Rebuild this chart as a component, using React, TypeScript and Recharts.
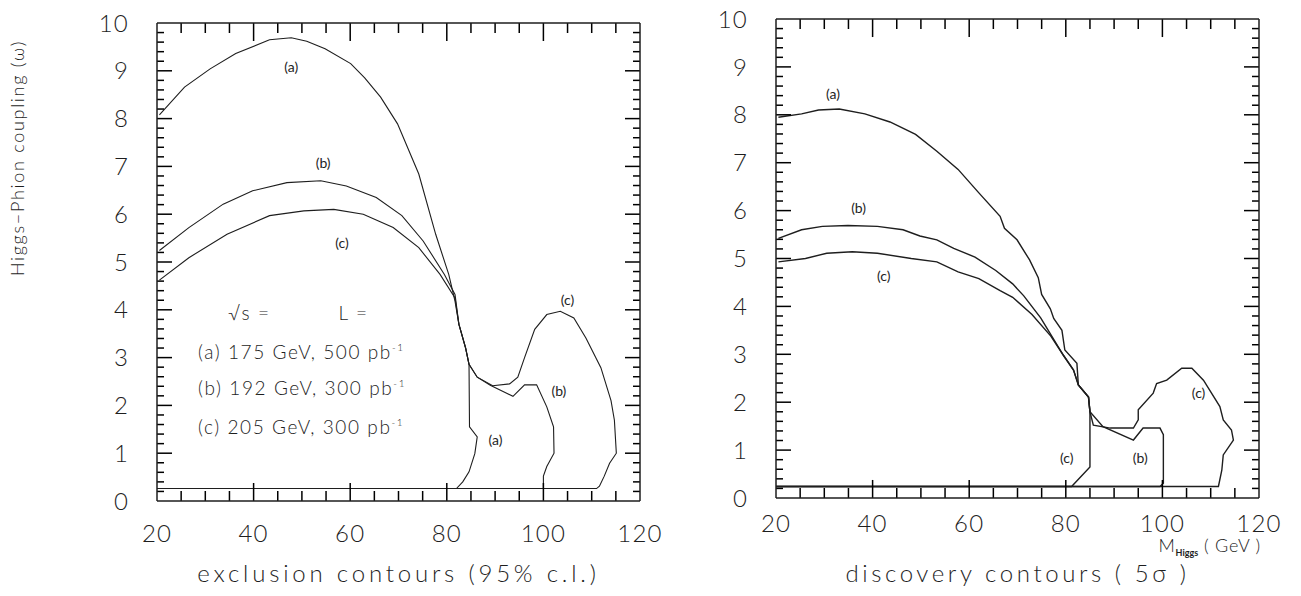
import React from "react";
import { LineChart, Line, XAxis, YAxis, ReferenceDot } from "recharts";

// tick labels
const X_LABELS = [20, 40, 60, 80, 100, 120];
const Y_LABELS = [0, 1, 2, 3, 4, 5, 6, 7, 8, 9, 10];

// left panel: exclusion contours (95% c.l.)
const EXCL_A = [
  { x: 20.5, y: 8.08 }, { x: 25.7, y: 8.66 }, { x: 31, y: 9.04 }, { x: 36.3, y: 9.36 },
  { x: 43.3, y: 9.65 }, { x: 47.8, y: 9.69 }, { x: 51, y: 9.62 }, { x: 54.8, y: 9.46 },
  { x: 60.1, y: 9.15 }, { x: 63, y: 8.85 }, { x: 66.3, y: 8.45 }, { x: 69.8, y: 7.89 },
  { x: 74.2, y: 6.84 }, { x: 77.7, y: 5.58 }, { x: 80.4, y: 4.74 }, { x: 81.7, y: 4.18 },
  { x: 82.5, y: 3.7 }, { x: 83.9, y: 3.2 }, { x: 84.6, y: 2.86 }, { x: 84.7, y: 1.55 },
  { x: 86.3, y: 1.34 }, { x: 85.8, y: 0.99 }, { x: 84.6, y: 0.61 }, { x: 83.3, y: 0.4 },
  { x: 82, y: 0.26 }, { x: 20, y: 0.26 },
];
const EXCL_B = [
  { x: 20.5, y: 5.24 }, { x: 26.6, y: 5.72 }, { x: 33.7, y: 6.21 }, { x: 39.8, y: 6.49 },
  { x: 46.9, y: 6.66 }, { x: 53.9, y: 6.7 }, { x: 59.2, y: 6.59 }, { x: 65.4, y: 6.35 },
  { x: 70.7, y: 5.97 }, { x: 75.1, y: 5.44 }, { x: 79.5, y: 4.74 }, { x: 81.7, y: 4.32 },
  { x: 82.5, y: 3.7 }, { x: 83.9, y: 3.2 }, { x: 84.6, y: 2.86 }, { x: 86.3, y: 2.59 },
  { x: 89, y: 2.42 }, { x: 93.7, y: 2.19 }, { x: 96.1, y: 2.43 }, { x: 98.6, y: 2.43 },
  { x: 100.7, y: 1.97 }, { x: 102.1, y: 1.55 }, { x: 102.2, y: 1.0 }, { x: 100.7, y: 0.72 },
  { x: 100, y: 0.52 }, { x: 100, y: 0.26 }, { x: 20, y: 0.26 },
];
const EXCL_C = [
  { x: 20.5, y: 4.62 }, { x: 26.6, y: 5.09 }, { x: 34.5, y: 5.58 }, { x: 43.3, y: 5.97 },
  { x: 50.4, y: 6.07 }, { x: 56.6, y: 6.1 }, { x: 62.7, y: 6.0 }, { x: 68.9, y: 5.72 },
  { x: 74.2, y: 5.3 }, { x: 78.6, y: 4.74 }, { x: 81.7, y: 4.25 }, { x: 82.5, y: 3.7 },
  { x: 83.9, y: 3.2 }, { x: 84.6, y: 2.86 }, { x: 86.3, y: 2.59 }, { x: 89.5, y: 2.41 },
  { x: 93, y: 2.45 }, { x: 94.7, y: 2.59 }, { x: 96.1, y: 3.0 }, { x: 98.2, y: 3.59 },
  { x: 100.7, y: 3.9 }, { x: 103.5, y: 3.97 }, { x: 106.3, y: 3.83 }, { x: 108.8, y: 3.41 },
  { x: 111.9, y: 2.79 }, { x: 114, y: 2.1 }, { x: 114.7, y: 1.69 }, { x: 115.1, y: 1.0 },
  { x: 113.7, y: 0.79 }, { x: 112.6, y: 0.52 }, { x: 111.6, y: 0.31 }, { x: 111, y: 0.26 },
  { x: 20, y: 0.26 },
];

// right panel: discovery contours (5 sigma)
const DISC_A = [
  { x: 20.5, y: 7.95 }, { x: 25.3, y: 8.02 }, { x: 28.8, y: 8.1 }, { x: 33.1, y: 8.12 },
  { x: 38.4, y: 8.02 }, { x: 43.6, y: 7.85 }, { x: 48.9, y: 7.59 }, { x: 53.3, y: 7.24 },
  { x: 57.7, y: 6.86 }, { x: 62, y: 6.37 }, { x: 66.4, y: 5.88 }, { x: 67.3, y: 5.63 },
  { x: 69.9, y: 5.39 }, { x: 72.5, y: 4.97 }, { x: 74.3, y: 4.6 }, { x: 75, y: 4.25 },
  { x: 76.8, y: 3.95 }, { x: 77.5, y: 3.75 }, { x: 79.2, y: 3.5 }, { x: 79.8, y: 3.09 },
  { x: 82.3, y: 2.81 }, { x: 82.6, y: 2.36 }, { x: 84.7, y: 2.11 }, { x: 85, y: 1.8 },
  { x: 85, y: 0.65 }, { x: 81.2, y: 0.24 }, { x: 20, y: 0.24 },
];
const DISC_B = [
  { x: 20.5, y: 5.42 }, { x: 25.3, y: 5.6 }, { x: 29.6, y: 5.67 }, { x: 34.9, y: 5.69 },
  { x: 41, y: 5.67 }, { x: 46.3, y: 5.6 }, { x: 49.8, y: 5.47 }, { x: 53.3, y: 5.39 },
  { x: 56.8, y: 5.21 }, { x: 61.2, y: 5.03 }, { x: 65.5, y: 4.75 }, { x: 69, y: 4.47 },
  { x: 71.3, y: 4.22 }, { x: 74.8, y: 3.76 }, { x: 76.9, y: 3.41 }, { x: 79.5, y: 2.98 },
  { x: 81.6, y: 2.67 }, { x: 82.6, y: 2.36 }, { x: 84.7, y: 2.11 }, { x: 85, y: 1.8 },
  { x: 87.7, y: 1.49 }, { x: 94, y: 1.21 }, { x: 96, y: 1.46 }, { x: 99.5, y: 1.46 },
  { x: 100.2, y: 1.32 }, { x: 100.2, y: 0.31 }, { x: 99.5, y: 0.24 }, { x: 20, y: 0.24 },
];
const DISC_C = [
  { x: 20.5, y: 4.93 }, { x: 26.1, y: 5.0 }, { x: 30.5, y: 5.11 }, { x: 35.8, y: 5.14 },
  { x: 41, y: 5.11 }, { x: 48, y: 5.0 }, { x: 53.3, y: 4.93 }, { x: 57.7, y: 4.72 },
  { x: 62, y: 4.58 }, { x: 66.4, y: 4.33 }, { x: 69, y: 4.19 }, { x: 73, y: 3.83 },
  { x: 76.9, y: 3.38 }, { x: 79.5, y: 2.98 }, { x: 81.6, y: 2.67 }, { x: 82.6, y: 2.36 },
  { x: 84.7, y: 2.11 }, { x: 85, y: 1.8 }, { x: 85.7, y: 1.52 }, { x: 89.2, y: 1.46 },
  { x: 94, y: 1.46 }, { x: 95, y: 1.63 }, { x: 95, y: 1.84 }, { x: 98.1, y: 2.19 },
  { x: 98.8, y: 2.39 }, { x: 100.9, y: 2.46 }, { x: 104, y: 2.71 }, { x: 106.1, y: 2.71 },
  { x: 108.5, y: 2.46 }, { x: 111.9, y: 1.91 }, { x: 112.6, y: 1.63 }, { x: 114.3, y: 1.42 },
  { x: 114.7, y: 1.21 }, { x: 112.6, y: 0.9 }, { x: 112.3, y: 0.58 }, { x: 111.6, y: 0.24 },
  { x: 20, y: 0.24 },
];

// curve tags and the legend block written inside the left frame
const NOTES_L = [
  { x: 47.8, y: 9.08, text: "(a)" },
  { x: 54.4, y: 7.08, text: "(b)" },
  { x: 58.3, y: 5.4, text: "(c)" },
  { x: 105, y: 4.2, text: "(c)" },
  { x: 103.2, y: 2.3, text: "(b)" },
  { x: 90.1, y: 1.27, text: "(a)" },
];
const LEGEND_L = [
  { x: 34.7, y: 3.93, text: "√s =", sup: "" },
  { x: 57.6, y: 3.93, text: "L =", sup: "" },
  { x: 28.5, y: 3.12, text: "(a) 175 GeV, 500 pb", sup: "-1" },
  { x: 28.5, y: 2.36, text: "(b) 192 GeV, 300 pb", sup: "-1" },
  { x: 28.5, y: 1.55, text: "(c) 205 GeV, 300 pb", sup: "-1" },
];
const NOTES_R = [
  { x: 31.8, y: 8.44, text: "(a)" },
  { x: 37.1, y: 6.05, text: "(b)" },
  { x: 42.3, y: 4.63, text: "(c)" },
  { x: 107.5, y: 2.19, text: "(c)" },
  { x: 95.4, y: 0.83, text: "(b)" },
  { x: 80.2, y: 0.83, text: "(c)" },
];

const FONT = "Lato, 'DejaVu Sans', sans-serif";
const INK = "#1e1e1e";

const X_MINOR = Array.from({ length: 19 }, (_, i) => 25 + i * 5);
const Y_MINOR = Array.from({ length: 49 }, (_, i) => Math.round((i + 1) * 2) / 10);

const isInt = (v: number) => Math.abs(v - Math.round(v)) < 1e-6;

// frame is ~483 x 478 px for 100 x 10 units; tick lengths are px converted to units
const UX = 100 / 483;
const UY = 10 / 478;

// one short series per frame tick
function frameTicks() {
  const out: { x: number; y: number }[][] = [];
  X_MINOR.forEach((v) => {
    const len = (X_LABELS.includes(v) ? 18 : 10) * UY;
    out.push([{ x: v, y: 0 }, { x: v, y: len }]);
    out.push([{ x: v, y: 10 }, { x: v, y: 10 - len }]);
  });
  Y_MINOR.forEach((v) => {
    const len = (isInt(v) ? 15 : 7) * UX;
    out.push([{ x: 20, y: v }, { x: 20 + len, y: v }]);
    out.push([{ x: 120, y: v }, { x: 120 - len, y: v }]);
  });
  return out;
}
const FRAME_TICKS = frameTicks();

function xTick(labelGap: number) {
  return (props: any) => (
    <text x={props.x} y={props.y + labelGap} dy="0.36em" textAnchor="middle" fontFamily={FONT} fontWeight={300} fontSize={24} fill={INK} letterSpacing={1.2}>
      {props.payload.value}
    </text>
  );
}

function yTick(props: any) {
  return (
    <text x={props.x - 28} y={props.y} dy="0.36em" textAnchor="end" fontFamily={FONT} fontWeight={300} fontSize={24} fill={INK} letterSpacing={1.2}>
      {props.payload.value}
    </text>
  );
}

function tagLabel(text: string) {
  return (p: any) => (
    <text x={p.viewBox.x} y={p.viewBox.y} dy="0.36em" textAnchor="middle" fontFamily={FONT} fontSize={14} fill={INK}>
      {text}
    </text>
  );
}

function legendLabel(text: string, sup: string) {
  return (p: any) => (
    <text x={p.viewBox.x} y={p.viewBox.y} dy="0.36em" textAnchor="start" fontFamily={FONT} fontWeight={300} fontSize={19} fill={INK} letterSpacing={1.6}>
      <tspan>{text}</tspan>
      {sup && (
        <tspan dy={-8} fontSize={10}>
          {sup}
        </tspan>
      )}
    </text>
  );
}

type Pt = { x: number; y: number };

// axes take 1px each (recharts skips axes of zero size), so margins are one less than the frame offset
function Panel({
  width,
  margin,
  labelGap,
  series,
  notes,
  legend,
  strokeWidth,
  xTitle,
  yTitle,
}: {
  width: number;
  margin: { top: number; right: number; bottom: number; left: number };
  labelGap: number;
  series: Pt[][];
  notes: { x: number; y: number; text: string }[];
  legend: { x: number; y: number; text: string; sup: string }[];
  strokeWidth: number;
  xTitle: (vb: any) => React.ReactNode;
  yTitle?: (vb: any) => React.ReactNode;
}) {
  const m = { top: margin.top - 1, right: margin.right - 1, bottom: margin.bottom - 1, left: margin.left - 1 };
  return (
    <LineChart width={width} height={596} margin={m}>
      <XAxis
        xAxisId="b"
        type="number"
        dataKey="x"
        orientation="bottom"
        domain={[20, 120]}
        ticks={X_LABELS}
        interval={0}
        height={1}
        tickSize={0}
        tickMargin={0}
        tickLine={false}
        tick={xTick(labelGap)}
        axisLine={{ stroke: INK, strokeWidth: 1.5 }}
        allowDataOverflow
        label={{ content: (p: any) => xTitle(p.viewBox) }}
      />
      <XAxis
        xAxisId="t"
        type="number"
        dataKey="x"
        orientation="top"
        domain={[20, 120]}
        ticks={X_LABELS}
        height={1}
        tickLine={false}
        tick={false}
        axisLine={{ stroke: INK, strokeWidth: 1.5 }}
        allowDataOverflow
      />
      <YAxis
        yAxisId="l"
        type="number"
        orientation="left"
        domain={[0, 10]}
        ticks={Y_LABELS}
        interval={0}
        width={1}
        tickSize={0}
        tickMargin={0}
        tickLine={false}
        tick={yTick}
        axisLine={{ stroke: INK, strokeWidth: 1.5 }}
        allowDataOverflow
        label={yTitle ? { content: (p: any) => yTitle(p.viewBox) } : undefined}
      />
      <YAxis
        yAxisId="r"
        type="number"
        orientation="right"
        domain={[0, 10]}
        ticks={Y_LABELS}
        width={1}
        tickLine={false}
        tick={false}
        axisLine={{ stroke: INK, strokeWidth: 1.5 }}
        allowDataOverflow
      />
      {/* the top and right frame axes need a bound series to get a scale; this copy is invisible */}
      <Line
        xAxisId="t"
        yAxisId="r"
        data={series[0]}
        dataKey="y"
        type="linear"
        stroke="none"
        dot={false}
        activeDot={false}
        legendType="none"
        isAnimationActive={false}
      />
      {series.map((d, i) => (
        <Line
          key={i}
          xAxisId="b"
          yAxisId="l"
          data={d}
          dataKey="y"
          type="linear"
          stroke={INK}
          strokeWidth={strokeWidth}
          dot={false}
          activeDot={false}
          isAnimationActive={false}
        />
      ))}
      {FRAME_TICKS.map((d, i) => (
        <Line
          key={"f" + i}
          xAxisId="b"
          yAxisId="l"
          data={d}
          dataKey="y"
          type="linear"
          stroke="#000"
          strokeWidth={1.5}
          dot={false}
          activeDot={false}
          isAnimationActive={false}
        />
      ))}
      {notes.map((n, i) => (
        <ReferenceDot key={"n" + i} xAxisId="b" yAxisId="l" x={n.x} y={n.y} r={0} stroke="none" fill="none" label={{ content: tagLabel(n.text) }} />
      ))}
      {legend.map((n, i) => (
        <ReferenceDot key={"g" + i} xAxisId="b" yAxisId="l" x={n.x} y={n.y} r={0} stroke="none" fill="none" label={{ content: legendLabel(n.text, n.sup) }} />
      ))}
    </LineChart>
  );
}

export default function App() {
  return (
    <div style={{ position: "absolute", left: 0, top: 0, width: 1301, height: 596, background: "#fff", overflow: "hidden" }}>
      <div style={{ position: "absolute", left: 0, top: 0 }}>
        <Panel
          width={700}
          margin={{ top: 23, right: 60, bottom: 95, left: 157 }}
          labelGap={32}
          series={[EXCL_A, EXCL_B, EXCL_C]}
          notes={NOTES_L}
          legend={LEGEND_L}
          strokeWidth={1.1}
          xTitle={(vb) => (
            <text x={vb.x + vb.width / 2} y={vb.y + 72} dy="0.36em" textAnchor="middle" fontFamily={FONT} fontWeight={300} fontSize={24} fill={INK} letterSpacing={3.8}>
              exclusion contours (95% c.l.)
            </text>
          )}
          yTitle={(vb) => (
            <text
              x={18}
              y={vb.y + 135}
              dy="0.36em"
              textAnchor="middle"
              transform={`rotate(-90 18 ${vb.y + 135})`}
              fontFamily={FONT}
              fontWeight={300}
              fontSize={18}
              fill={INK}
              letterSpacing={1.7}
            >
              Higgs−Phion coupling (ω)
            </text>
          )}
        />
      </div>
      <div style={{ position: "absolute", left: 660, top: 0 }}>
        <Panel
          width={641}
          margin={{ top: 19, right: 42, bottom: 98, left: 116 }}
          labelGap={25}
          series={[DISC_A, DISC_B, DISC_C]}
          notes={NOTES_R}
          legend={[]}
          strokeWidth={1.4}
          xTitle={(vb) => (
            <g>
              <text x={vb.x + vb.width + 2} y={vb.y + 48} dy="0.36em" textAnchor="end" fontFamily={FONT} fontWeight={300} fontSize={18} fill={INK} letterSpacing={0.8}>
                <tspan>M</tspan>
                <tspan dy={4} fontSize={9} fontWeight={700} letterSpacing={0}>
                  Higgs
                </tspan>
                <tspan dy={-4}> ( GeV )</tspan>
              </text>
              <text x={vb.x + vb.width / 2} y={vb.y + 75} dy="0.36em" textAnchor="middle" fontFamily={FONT} fontWeight={300} fontSize={24} fill={INK} letterSpacing={3.6}>
                discovery contours ( 5σ )
              </text>
            </g>
          )}
        />
      </div>
    </div>
  );
}
